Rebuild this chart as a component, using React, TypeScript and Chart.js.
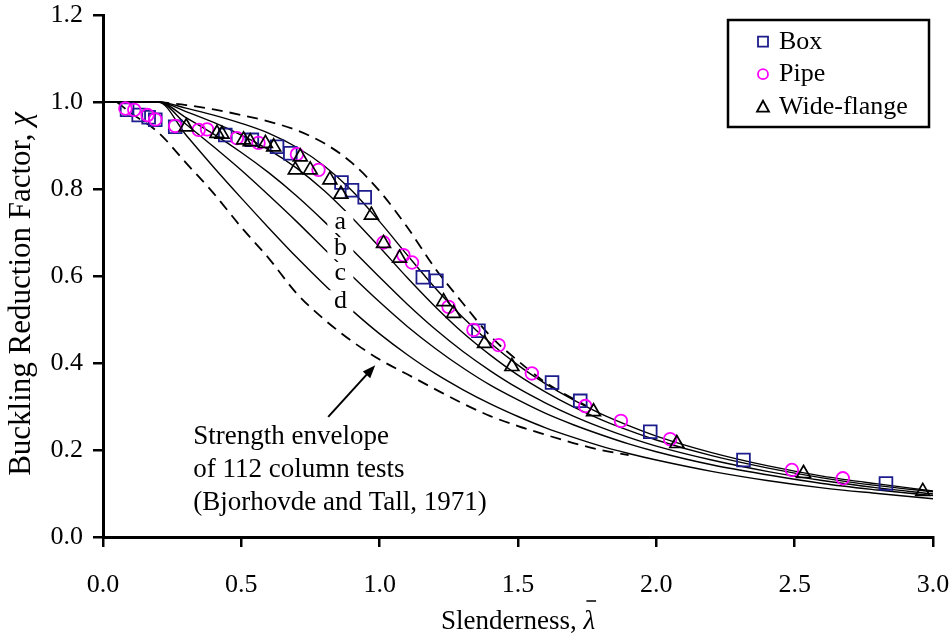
import React, { useEffect, useRef } from "react";
import { Chart, registerables } from "chart.js";
Chart.register(...registerables);

const FONT = '"Liberation Serif"';

// Column curves
const curveLambda = [0, 0.2, 0.3, 0.4, 0.5, 0.6, 0.7, 0.8, 0.9, 1.0, 1.1, 1.2, 1.3, 1.4, 1.5, 1.6, 1.7, 1.8, 1.9, 2.0, 2.2, 2.4, 2.6, 2.8, 3.0];
const curveA0 = [1, 1, 0.986, 0.970, 0.951, 0.928, 0.896, 0.853, 0.796, 0.725, 0.648, 0.573, 0.505, 0.446, 0.395, 0.352, 0.315, 0.283, 0.256, 0.232, 0.194, 0.164, 0.140, 0.122, 0.106];
const curveA = [1, 1, 0.978, 0.953, 0.924, 0.890, 0.848, 0.796, 0.734, 0.666, 0.596, 0.530, 0.470, 0.418, 0.372, 0.333, 0.299, 0.270, 0.245, 0.223, 0.187, 0.159, 0.136, 0.118, 0.104];
const curveB = [1, 1, 0.964, 0.926, 0.884, 0.837, 0.784, 0.725, 0.661, 0.597, 0.535, 0.478, 0.427, 0.382, 0.342, 0.308, 0.278, 0.252, 0.229, 0.209, 0.177, 0.151, 0.130, 0.113, 0.099];
const curveC = [1, 1, 0.949, 0.897, 0.843, 0.785, 0.725, 0.662, 0.600, 0.540, 0.484, 0.434, 0.389, 0.349, 0.315, 0.284, 0.258, 0.235, 0.214, 0.196, 0.166, 0.143, 0.123, 0.108, 0.095];
const curveD = [1, 1, 0.924, 0.850, 0.779, 0.710, 0.643, 0.580, 0.521, 0.467, 0.419, 0.376, 0.339, 0.306, 0.277, 0.251, 0.229, 0.209, 0.192, 0.177, 0.151, 0.130, 0.113, 0.100, 0.088];

// Strength envelope of column tests
const upperEnvLambda = [0.2, 0.3, 0.4, 0.5, 0.6, 0.7, 0.8, 0.9, 1.0, 1.1, 1.2, 1.3, 1.4, 1.5, 1.6, 1.75];
const upperEnvChi = [1.0, 0.993, 0.983, 0.970, 0.955, 0.935, 0.905, 0.860, 0.795, 0.712, 0.618, 0.538, 0.462, 0.405, 0.355, 0.300];
const lowerEnvLambda = [0.05, 0.1, 0.2, 0.3, 0.4, 0.5, 0.6, 0.7, 0.8, 0.9, 1.0, 1.1, 1.2, 1.3, 1.4, 1.5, 1.6, 1.7, 1.8, 1.9];
const lowerEnvChi = [1.0, 0.975, 0.930, 0.860, 0.790, 0.712, 0.640, 0.560, 0.500, 0.450, 0.408, 0.374, 0.340, 0.307, 0.278, 0.255, 0.235, 0.216, 0.200, 0.188];

// Test data
const boxLambda = [0.087, 0.129, 0.165, 0.189, 0.261, 0.442, 0.538, 0.629, 0.677, 0.862, 0.9, 0.946, 1.156, 1.205, 1.357, 1.623, 1.725, 1.978, 2.315, 2.83];
const boxChi = [0.982, 0.970, 0.965, 0.959, 0.943, 0.924, 0.913, 0.897, 0.882, 0.815, 0.797, 0.781, 0.597, 0.589, 0.474, 0.355, 0.313, 0.242, 0.177, 0.123];
const pipeLambda = [0.081, 0.113, 0.161, 0.189, 0.261, 0.346, 0.376, 0.484, 0.562, 0.701, 0.779, 1.014, 1.086, 1.117, 1.249, 1.339, 1.43, 1.55, 1.743, 1.872, 2.05, 2.49, 2.674];
const pipeChi = [0.985, 0.982, 0.970, 0.960, 0.945, 0.936, 0.937, 0.917, 0.906, 0.880, 0.844, 0.677, 0.648, 0.631, 0.529, 0.476, 0.441, 0.376, 0.301, 0.267, 0.225, 0.154, 0.135];
const wfLambda = [0.301, 0.412, 0.43, 0.508, 0.532, 0.587, 0.617, 0.695, 0.713, 0.749, 0.82, 0.86, 0.97, 1.014, 1.072, 1.231, 1.267, 1.379, 1.478, 1.773, 2.074, 2.532, 2.963];
const wfChi = [0.943, 0.928, 0.926, 0.913, 0.909, 0.905, 0.897, 0.844, 0.874, 0.844, 0.821, 0.788, 0.740, 0.675, 0.641, 0.541, 0.514, 0.445, 0.392, 0.288, 0.215, 0.146, 0.105];

const xTicks = [0, 0.5, 1.0, 1.5, 2.0, 2.5, 3.0];
const xTickLabels = ["0.0", "0.5", "1.0", "1.5", "2.0", "2.5", "3.0"];
const yTicks = [0, 0.2, 0.4, 0.6, 0.8, 1.0, 1.2];
const yTickLabels = ["0.0", "0.2", "0.4", "0.6", "0.8", "1.0", "1.2"];

const curveLabels = ["a", "b", "c", "d"];
const curveLabelLambda = 0.858;
const curveLabelChi = [0.724, 0.664, 0.607, 0.542];

const noteLines = ["Strength envelope", "of 112 column tests", "(Bjorhovde and Tall, 1971)"];
const noteLambda = 0.326;
const noteChi = [0.23, 0.154, 0.078];
const arrowFrom = [0.814, 0.276];
const arrowTo = [0.984, 0.395];

const xTitle = "Slenderness, ";
const xTitleSym = "λ";
const yTitle = "Buckling Reduction Factor, ";
const yTitleSym = "χ";

const BOX_COLOR = "#1c1c8c";
const PIPE_COLOR = "#ff00ff";
const WF_COLOR = "#000000";

const toXY = (xs: number[], ys: number[]) => xs.map((x, i) => ({ x, y: ys[i] }));

const extras = {
  id: "extras",
  afterDatasetsDraw(chart: any) {
    const ctx = chart.ctx as CanvasRenderingContext2D;
    const xs = chart.scales.x;
    const ys = chart.scales.y;
    ctx.save();
    ctx.font = `26px ${FONT}`;
    ctx.textAlign = "center";
    ctx.textBaseline = "middle";
    curveLabels.forEach((t, i) => {
      const px = xs.getPixelForValue(curveLabelLambda);
      const py = ys.getPixelForValue(curveLabelChi[i]);
      ctx.fillStyle = "#fff";
      ctx.fillRect(px - 13, py - 11, 26, 22);
      ctx.fillStyle = "#000";
      ctx.fillText(t, px, py);
    });
    ctx.textAlign = "left";
    ctx.font = `27px ${FONT}`;
    noteLines.forEach((t, i) => {
      ctx.fillText(t, xs.getPixelForValue(noteLambda), ys.getPixelForValue(noteChi[i]));
    });
    const x1 = xs.getPixelForValue(arrowFrom[0]);
    const y1 = ys.getPixelForValue(arrowFrom[1]);
    const x2 = xs.getPixelForValue(arrowTo[0]);
    const y2 = ys.getPixelForValue(arrowTo[1]);
    const ang = Math.atan2(y2 - y1, x2 - x1);
    const hl = 13, hw = 5;
    ctx.strokeStyle = "#000";
    ctx.lineWidth = 2;
    ctx.beginPath();
    ctx.moveTo(x1, y1);
    ctx.lineTo(x2 - Math.cos(ang) * hl * 0.8, y2 - Math.sin(ang) * hl * 0.8);
    ctx.stroke();
    ctx.fillStyle = "#000";
    ctx.beginPath();
    ctx.moveTo(x2, y2);
    ctx.lineTo(x2 - Math.cos(ang) * hl + Math.sin(ang) * hw, y2 - Math.sin(ang) * hl - Math.cos(ang) * hw);
    ctx.lineTo(x2 - Math.cos(ang) * hl - Math.sin(ang) * hw, y2 - Math.sin(ang) * hl + Math.cos(ang) * hw);
    ctx.closePath();
    ctx.fill();
    ctx.restore();
  },
  afterDraw(chart: any) {
    const ctx = chart.ctx as CanvasRenderingContext2D;
    const area = chart.chartArea;
    ctx.save();
    const lx0 = area.right - 205, lx1 = area.right - 4;
    const ly0 = area.top + 5, ly1 = area.top + 112;
    ctx.strokeStyle = "#000";
    ctx.lineWidth = 2.5;
    ctx.strokeRect(lx0, ly0, lx1 - lx0, ly1 - ly0);
    const items = chart.data.datasets.filter((d: any) => d.inLegend);
    items.forEach((d: any, i: number) => {
      const cy = ly0 + 21.7 + i * 32.5;
      const cx = lx0 + 35;
      ctx.strokeStyle = d.borderColor;
      ctx.lineWidth = 1.8;
      ctx.beginPath();
      if (d.pointStyle === "rect") {
        ctx.rect(cx - 5, cy - 5, 10, 10);
      } else if (d.pointStyle === "circle") {
        ctx.arc(cx, cy, 5, 0, Math.PI * 2);
      } else {
        ctx.moveTo(cx, cy - 6);
        ctx.lineTo(cx + 6, cy + 5);
        ctx.lineTo(cx - 6, cy + 5);
        ctx.closePath();
      }
      ctx.stroke();
      ctx.fillStyle = "#000";
      ctx.font = `26px ${FONT}`;
      ctx.textAlign = "left";
      ctx.textBaseline = "middle";
      ctx.fillText(d.label, lx0 + 51, cy);
    });
    const fs = 27;
    ctx.font = `${fs}px ${FONT}`;
    const w1 = ctx.measureText(xTitle).width;
    ctx.font = `italic ${fs}px ${FONT}`;
    const w2 = ctx.measureText(xTitleSym).width;
    const cxT = (area.left + area.right) / 2;
    const yT = 622;
    const sx = cxT - (w1 + w2) / 2;
    ctx.fillStyle = "#000";
    ctx.textAlign = "left";
    ctx.textBaseline = "middle";
    ctx.font = `${fs}px ${FONT}`;
    ctx.fillText(xTitle, sx, yT);
    ctx.font = `italic ${fs}px ${FONT}`;
    ctx.fillText(xTitleSym, sx + w1, yT);
    ctx.lineWidth = 1.5;
    ctx.strokeStyle = "#000";
    ctx.beginPath();
    ctx.moveTo(sx + w1 + 3, yT - 21);
    ctx.lineTo(sx + w1 + w2 + 1, yT - 21);
    ctx.stroke();
    const fy = 31;
    ctx.font = `${fy}px ${FONT}`;
    const v1 = ctx.measureText(yTitle).width;
    ctx.font = `italic ${fy}px ${FONT}`;
    const v2 = ctx.measureText(yTitleSym).width;
    ctx.translate(22, (area.top + area.bottom) / 2 + 18);
    ctx.rotate(-Math.PI / 2);
    const s0 = -(v1 + v2) / 2;
    ctx.font = `${fy}px ${FONT}`;
    ctx.fillText(yTitle, s0, 0);
    ctx.font = `italic ${fy}px ${FONT}`;
    ctx.fillText(yTitleSym, s0 + v1, 0);
    ctx.restore();
  },
};

export default function App() {
  const ref = useRef<HTMLCanvasElement | null>(null);
  useEffect(() => {
    document.body.style.margin = "0";
    const canvas = ref.current!;
    const lineDs = (label: string, ys: number[]) => ({
      type: "line" as const,
      label,
      data: toXY(curveLambda, ys),
      borderColor: "#000",
      borderWidth: 1.4,
      pointRadius: 0,
      fill: false,
      cubicInterpolationMode: "monotone" as const,
      order: 10,
    });
    const chart = new Chart(canvas, {
      type: "scatter",
      data: {
        datasets: [
          { type: "scatter", label: "Box", inLegend: true, data: toXY(boxLambda, boxChi), pointStyle: "rect", pointRadius: 9, borderColor: BOX_COLOR, backgroundColor: "rgba(0,0,0,0)", borderWidth: 1.8, order: 3 } as any,
          { type: "scatter", label: "Pipe", inLegend: true, data: toXY(pipeLambda, pipeChi), pointStyle: "circle", pointRadius: 6.3, borderColor: PIPE_COLOR, backgroundColor: "rgba(0,0,0,0)", borderWidth: 1.8, order: 2 } as any,
          { type: "scatter", label: "Wide-flange", inLegend: true, data: toXY(wfLambda, wfChi), pointStyle: "triangle", pointRadius: 8, borderColor: WF_COLOR, backgroundColor: "rgba(0,0,0,0)", borderWidth: 1.7, order: 1 } as any,
          lineDs("a0", curveA0),
          lineDs("a", curveA),
          lineDs("b", curveB),
          lineDs("c", curveC),
          lineDs("d", curveD),
          { type: "line", label: "Upper envelope", data: toXY(upperEnvLambda, upperEnvChi), borderColor: "#000", borderWidth: 1.8, borderDash: [11, 7], pointRadius: 0, fill: false, cubicInterpolationMode: "monotone", order: 10 } as any,
          { type: "line", label: "Lower envelope", data: toXY(lowerEnvLambda, lowerEnvChi), borderColor: "#000", borderWidth: 1.8, borderDash: [11, 7], pointRadius: 0, fill: false, cubicInterpolationMode: "monotone", order: 10 } as any,
        ],
      },
      options: {
        responsive: false,
        animation: false,
        devicePixelRatio: 1,
        layout: { padding: { left: 0, right: 19, top: 15, bottom: 0 } },
        plugins: { legend: { display: false }, tooltip: { enabled: false } },
        scales: {
          x: {
            type: "linear",
            min: 0,
            max: 3,
            afterBuildTicks: (s: any) => { s.ticks = xTicks.map((v) => ({ value: v })); },
            afterFit: (s: any) => { s.height = 104; s.paddingLeft = 0; s.paddingRight = 0; },
            ticks: {
              color: "#000",
              font: { family: FONT, size: 26, lineHeight: 1 },
              padding: 25,
              maxRotation: 0,
              callback: (_v: any, i: number) => xTickLabels[i],
            },
            grid: { display: true, drawOnChartArea: false, drawTicks: true, tickLength: 10, color: "#000", lineWidth: 2.5 },
            border: { display: true, color: "#000", width: 3 },
          },
          y: {
            type: "linear",
            min: 0,
            max: 1.2,
            afterBuildTicks: (s: any) => { s.ticks = yTicks.map((v) => ({ value: v })); },
            afterFit: (s: any) => { s.width = 103; s.paddingTop = 0; s.paddingBottom = 0; },
            ticks: {
              color: "#000",
              font: { family: FONT, size: 26, lineHeight: 1 },
              padding: 10,
              callback: (_v: any, i: number) => yTickLabels[i],
            },
            grid: { display: true, drawOnChartArea: false, drawTicks: true, tickLength: 10, color: "#000", lineWidth: 2.5 },
            border: { display: true, color: "#000", width: 3 },
          },
        },
      },
      plugins: [extras],
    } as any);
    return () => chart.destroy();
  }, []);
  return (
    <div style={{ width: 952, height: 641, background: "#fff" }}>
      <canvas ref={ref} width={952} height={641} style={{ display: "block" }} />
    </div>
  );
}
